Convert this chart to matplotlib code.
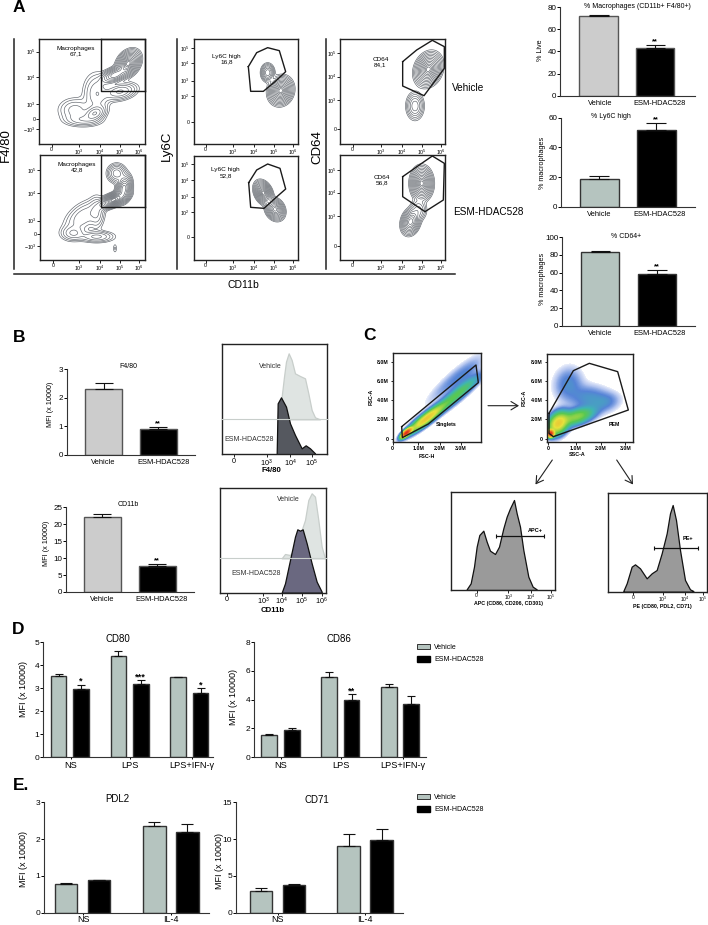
import numpy as np
import matplotlib
matplotlib.use('Agg')
import matplotlib.pyplot as plt
from matplotlib.colors import LinearSegmentedColormap, LogNorm
from matplotlib.patches import Patch

plt.rcParams['font.family'] = ['Liberation Sans', 'DejaVu Sans']
plt.rcParams['mathtext.default'] = 'regular'

W, H = 708, 925

# bar charts
labels_two = ['Vehicle', 'ESM-HDAC528']
live_mean, live_err = [72, 43.5], [1, 2.5]
ly6c_mean, ly6c_err = [19, 52], [1.8, 4.5]
cd64_mean, cd64_err = [83, 58], [1, 5]
f480_mean, f480_err = [2.3, 0.9], [0.23, 0.08]
cd11b_mean, cd11b_err = [22.2, 7.6], [0.7, 0.7]
labels_d = ['NS', 'LPS', 'LPS+IFN-γ']
cd80_mean, cd80_err = [3.55, 2.95, 4.42, 3.2, 3.47, 2.8], [0.06, 0.2, 0.2, 0.14, 0.03, 0.2]
cd86_mean, cd86_err = [1.52, 1.85, 5.55, 3.97, 4.88, 3.72], [0.07, 0.18, 0.35, 0.42, 0.22, 0.52]
labels_e = ['NS', 'IL-4']
pdl2_mean, pdl2_err = [0.78, 0.88, 2.36, 2.2], [0.015, 0.02, 0.1, 0.2]
cd71_mean, cd71_err = [3.0, 3.7, 9.05, 9.9], [0.3, 0.2, 1.7, 1.45]

# contour plots: cx, cy, sx, sy, rho, weight on the cytometer channel scale
mac_veh = [(385, 190, 20, 22, -.3, 1.0), (345, 225, 26, 16, -.5, .6), (285, 340, 22, 16, -.3, .25),
           (225, 330, 35, 25, 0, .1), (290, 280, 28, 42, 0, .12), (360, 275, 34, 18, -.3, .2),
           (250, 360, 40, 14, 0, .1)]
mac_esm = [(340, 600, 26, 15, -.6, 1.0), (372, 565, 14, 24, -.2, .7), (350, 520, 18, 18, 0, .25),
           (250, 650, 40, 35, -.5, .12), (290, 710, 36, 12, 0, .14), (220, 700, 26, 16, 0, .12),
           (290, 640, 16, 34, 0, .1), (345, 745, 5, 12, 0, .03)]
ly6c_veh = [(803, 218, 12, 16, 0, .35), (842, 272, 20, 23, -.1, 1.0)]
ly6c_esm = [(790, 578, 15, 19, .3, 1.0), (825, 628, 16, 18, .2, .8)]
cd64_veh = [(1285, 208, 22, 27, -.2, 1.0), (1245, 318, 16, 25, 0, .25)]
cd64_esm = [(1265, 550, 18, 27, 0, 1.0), (1232, 665, 16, 22, -.2, .7), (1255, 630, 16, 20, 0, .15)]

gate_ly6c_veh = [(745, 200), (770, 158), (803, 143), (838, 152), (857, 215), (825, 245), (790, 274), (752, 274), (745, 200)]
gate_ly6c_esm = [(746, 548), (770, 510), (803, 492), (840, 505), (857, 567), (825, 595), (792, 625), (752, 622), (746, 548)]
gate_cd64_veh = [(1208, 185), (1250, 150), (1297, 121), (1333, 140), (1333, 205), (1272, 287), (1208, 258), (1208, 185)]
gate_cd64_esm = [(1208, 530), (1255, 497), (1297, 468), (1333, 490), (1330, 600), (1275, 635), (1208, 590), (1208, 530)]

# histograms
f480_veh_x = [833, 845, 852, 858, 866, 875, 885, 900, 915, 925, 935, 945, 960]
f480_veh_y = [298, 230, 170, 125, 100, 120, 160, 168, 175, 220, 270, 292, 298]
f480_esm_x = [830, 833, 843, 858, 870, 885, 905, 917, 930, 945]
f480_esm_y = [403, 250, 232, 260, 310, 345, 385, 376, 385, 400]
cd11b_veh_x = [845, 855, 870, 890, 905, 915, 925, 935, 945, 955, 965, 975]
cd11b_veh_y = [715, 702, 705, 680, 630, 600, 540, 520, 530, 600, 680, 715]
cd11b_esm_x = [845, 855, 870, 885, 892, 900, 908, 920, 935, 950, 965]
cd11b_esm_y = [818, 790, 720, 650, 628, 632, 628, 670, 730, 785, 815]
apc_x = [350, 362, 372, 380, 388, 400, 410, 420, 435, 447, 460, 470, 480, 492, 500, 510, 520, 535, 548, 560]
apc_y = [808, 790, 740, 680, 645, 632, 665, 692, 702, 680, 625, 590, 565, 540, 580, 620, 690, 770, 800, 808]
pe_x = [820, 830, 845, 855, 870, 890, 905, 920, 935, 950, 960, 968, 978, 990, 1005, 1020, 1030]
pe_y = [813, 790, 740, 733, 745, 775, 760, 750, 700, 640, 580, 555, 600, 690, 780, 808, 813]

# pseudocolour plots
singlets = [(170, 338, 10, 9, -.7, 1.0), (230, 295, 35, 28, -.9, .22), (320, 225, 45, 38, -.92, .06),
            (310, 180, 55, 50, -.9, .008), (350, 165, 35, 35, -.8, .006)]
pem = [(602, 340, 7, 7, 0, 1.0), (625, 310, 20, 22, -.3, .2), (680, 290, 35, 18, -.5, .09),
       (655, 190, 30, 35, -.1, .012), (720, 235, 45, 28, .1, .014), (770, 245, 30, 20, -.2, .008)]
gate_singlets = [(155, 320), (378, 135), (385, 188), (235, 312), (157, 353), (155, 320)]
gate_pem = [(597, 280), (670, 152), (718, 130), (803, 155), (835, 270), (610, 350), (597, 340), (597, 280)]

SAGE = '#b5c4bf'
GREY = '#cccccc'
flow_cmap = LinearSegmentedColormap.from_list('flow', ['#eef1fb', '#b4c5ef', '#5583d6', '#3fb4b4', '#58c850',
                                                       '#e6e23c', '#f09a28', '#e02a1c'])

fig = plt.figure(figsize=(W / 100, H / 100), dpi=100)
ov = fig.add_axes([0, 0, 1, 1], zorder=10)
ov.set_xlim(0, W)
ov.set_ylim(H, 0)
ov.axis('off')
ov.patch.set_alpha(0)


def px_axes(x0, y0, x1, y1):
    return fig.add_axes([x0 / W, 1 - y1 / H, (x1 - x0) / W, (y1 - y0) / H])


def bar_panel(box, ymax, yticks, means, errs, edges, colors, xticks, xlabels, stars=None, size=5.4, ec='#333333',
              xpad=3, xlen=0):
    ax = px_axes(*box)
    ax.set_xlim(box[0], box[2])
    ax.set_ylim(0, ymax)
    for i, (left, right) in enumerate(edges):
        width = right - left
        ax.bar((left + right) / 2, means[i], width=width, color=colors[i], edgecolor=ec, linewidth=1)
        ax.errorbar((left + right) / 2, means[i], yerr=[[0], [errs[i]]], fmt='none', ecolor='#111111',
                    elinewidth=.8, capthick=.8, capsize=width * .18)
        if stars and stars[i]:
            ax.annotate(stars[i], ((left + right) / 2, means[i] + errs[i]), xytext=(0, 2.5),
                        textcoords='offset points', ha='center', va='center', fontsize=size, fontweight='bold')
    ax.spines['top'].set_visible(False)
    ax.spines['right'].set_visible(False)
    ax.spines['left'].set_color('#333333')
    ax.spines['bottom'].set_color('#333333')
    ax.patch.set_alpha(0)
    ax.set_yticks(yticks)
    ax.set_xticks(xticks)
    ax.set_xticklabels(xlabels)
    ax.tick_params(axis='y', length=2, width=.7, pad=0.5, labelsize=min(size + .4, 6))
    ax.tick_params(axis='x', length=xlen, width=.7, pad=xpad, labelsize=size)
    return ax


def flow_axes(box, xoff=0, yoff=0, lw=1.0):
    x0, y0, x1, y1 = box
    ax = px_axes(xoff + x0 / 3, yoff + y0 / 3, xoff + x1 / 3, yoff + y1 / 3)
    ax.set_xlim(x0, x1)
    ax.set_ylim(y1, y0)
    for sp in ax.spines.values():
        sp.set_linewidth(lw)
        sp.set_color('#222222')
    return ax


def density(blobs, box, step=1.5, spread=1.0):
    xs = np.arange(box[0], box[2] + step, step)
    ys = np.arange(box[1], box[3] + step, step)
    X, Y = np.meshgrid(xs, ys)
    Z = np.zeros_like(X, dtype=float)
    for cx, cy, sx, sy, rho, w in blobs:
        dx, dy = (X - cx) / (sx * spread), (Y - cy) / (sy * spread)
        Z += w * np.exp(-(dx ** 2 - 2 * rho * dx * dy + dy ** 2) / (2 * (1 - rho ** 2)))
    return X, Y, Z / Z.max()


def pow_label(e):
    return f'$10^{{{e}}}$'


def contour_panel(box, blobs, xt, yt, ylabs, gate=None, text=None, reach=2.9):
    ax = flow_axes(box)
    X, Y, Z = density(blobs, box, spread=.75)
    # rings evenly spaced in radius, like the equal probability contours
    levels = np.exp(-.5 * np.linspace(reach, .35, 13) ** 2)
    ax.contour(X, Y, Z, levels=levels, colors='#5c6168', linewidths=.45)
    if gate is not None:
        ax.plot(*zip(*gate), color='#1a1a1a', lw=1)
    ax.set_xticks(xt)
    ax.set_xticklabels(['0', pow_label(3), pow_label(4), pow_label(5), pow_label(6)])
    ax.set_yticks(yt)
    ax.set_yticklabels(ylabs)
    ax.tick_params(length=2, width=.6, pad=.5, labelsize=3.8)
    ax.text(text[0], text[1], text[2], ha='center', va='center', fontsize=4.6, linespacing=1.15)
    return ax


def hist_panel(box, curves, xt, xlabs, yoff, xoff=0, fs=5.5, lw=1.0):
    ax = flow_axes(box, xoff, yoff, lw=lw)
    for x, y, base, face, edge in curves:
        ax.fill_between(x, y, base, color=face, edgecolor=edge, linewidth=.9)
    ax.set_xticks(xt)
    ax.set_xticklabels(xlabs)
    ax.set_yticks([])
    ax.tick_params(length=1.8, width=.6, pad=.5, labelsize=fs)
    return ax


def scatter_panel(box, blobs, gate, xt, yt, xoff, yoff):
    ax = flow_axes(box, xoff, yoff)
    X, Y, Z = density(blobs, box, spread=.85)
    Z = np.ma.masked_less(Z, 1.5e-3)
    ax.pcolormesh(X, Y, Z, cmap=flow_cmap, norm=LogNorm(1.5e-3, 1), shading='nearest', rasterized=True)
    ax.plot(*zip(*gate), color='#1a1a1a', lw=1)
    ax.set_xticks(xt)
    ax.set_xticklabels(['0', '1.0M', '2.0M', '3.0M'])
    ax.set_yticks(yt)
    ax.set_yticklabels(['8.0M', '6.0M', '4.0M', '2.0M', '0'])
    ax.tick_params(length=1.8, width=.6, pad=1, labelsize=3.8)
    for t in ax.get_xticklabels() + ax.get_yticklabels():
        t.set_fontweight('bold')
    return ax


# panel A bars
bar_panel((560, 7.3, 695, 95.7), 80, [0, 20, 40, 60, 80], live_mean, live_err, [(579, 618), (636, 674)],
          [GREY, 'black'], [600, 660], labels_two, [None, '**'], ec='#555555')
bar_panel((561, 117.7, 695, 207), 60, [0, 20, 40, 60], ly6c_mean, ly6c_err, [(580, 618.7), (637, 675.7)],
          [SAGE, 'black'], [599.7, 659.3], labels_two, [None, '**'])
bar_panel((562, 237.3, 695, 325.7), 100, [0, 20, 40, 60, 80, 100], cd64_mean, cd64_err, [(581, 619), (637.7, 676)],
          [SAGE, 'black'], [600.3, 659.3], labels_two, [None, '**'])

# panel B bars
bar_panel((66.7, 369.3, 195, 454.7), 3, [0, 1, 2, 3], f480_mean, f480_err, [(85, 122), (139.7, 177)],
          [GREY, 'black'], [103.7, 163.3], labels_two, [None, '**'], ec='#555555')
bar_panel((66, 507.3, 194, 592), 25, [0, 5, 10, 15, 20, 25], cd11b_mean, cd11b_err, [(84, 120.7), (138.7, 175.7)],
          [GREY, 'black'], [102, 162], labels_two, [None, '**'], ec='#555555')

# panels D and E bars
two = [SAGE, 'black'] * 3
bar_panel((43, 642.3, 213, 757), 5, [0, 1, 2, 3, 4, 5], cd80_mean, cd80_err,
          [(50.7, 66.3), (73.3, 89), (110.7, 126), (133, 148.7), (170.3, 185.7), (192.7, 208.3)],
          two, [70.7, 130, 192], labels_d, [None, '*', None, '***', None, '*'], size=6.6, xpad=1.5, xlen=1.5)
bar_panel((254, 642.3, 426, 757), 8, [0, 2, 4, 6, 8], cd86_mean, cd86_err,
          [(261.3, 277), (284, 299.7), (321.3, 336.7), (343.7, 359.3), (381, 396.7), (403.3, 419)],
          two, [281, 341, 402.7], labels_d, [None, None, None, '**', None, None], size=6.6, xpad=1.5, xlen=1.5)
bar_panel((44, 802.3, 209, 912.7), 3, [0, 1, 2, 3], pdl2_mean, pdl2_err,
          [(55, 77.3), (88, 110.3), (143.3, 165.7), (176.3, 198.7)], two, [83, 171], labels_e, size=6.4, xpad=.5,
          xlen=1.5)
bar_panel((235.7, 802.3, 403, 912.7), 15, [0, 5, 10, 15], cd71_mean, cd71_err,
          [(250, 272.3), (283, 305.3), (337.3, 359.7), (370.3, 392.7)], two, [278, 365], labels_e, size=6.4, xpad=.5,
          xlen=1.5)

# panel A contours
y_mac = [pow_label(5), pow_label(4), pow_label(3), '0', '$-10^{3}$']
contour_panel((118, 116, 434, 432), mac_veh, [155, 237, 300, 360, 418], [155, 232, 312, 357, 388], y_mac,
              text=(228, 153, 'Macrophages\n67,1'))
contour_panel((121, 466, 434, 780), mac_esm, [160, 237, 300, 360, 418], [510, 580, 662, 703, 738], y_mac,
              text=(230, 501, 'Macrophages\n42,8'))
y_ly = [pow_label(5), pow_label(4), pow_label(3), pow_label(2), '0']
contour_panel((581, 118, 893, 432), ly6c_veh, [617, 700, 762, 822, 880], [145, 190, 242, 288, 365], y_ly,
              gate=gate_ly6c_veh, text=(680, 177, 'Ly6C high\n16,8'))
contour_panel((581, 468, 895, 780), ly6c_esm, [617, 700, 762, 822, 880], [492, 540, 590, 637, 712], y_ly,
              gate=gate_ly6c_esm, text=(677, 518, 'Ly6C high\n52,8'))
y_cd = [pow_label(5), pow_label(4), pow_label(3), '0']
contour_panel((1021, 118, 1336, 432), cd64_veh, [1058, 1142, 1205, 1265, 1323], [160, 230, 300, 388], y_cd,
              gate=gate_cd64_veh, text=(1141, 187, 'CD64\n84,1'))
contour_panel((1021, 466, 1336, 780), cd64_esm, [1058, 1142, 1205, 1265, 1323], [510, 578, 648, 737], y_cd,
              gate=gate_cd64_esm, text=(1145, 540, 'CD64\n56,8'))
for gx0, gy0, gy1, gx1 in [(303, 116, 273, 434), (303, 466, 622, 434)]:
    ov.plot([gx0 / 3, gx0 / 3, gx1 / 3], [gy0 / 3, gy1 / 3, gy1 / 3], color='#1a1a1a', lw=1)
    ov.plot([gx0 / 3, gx1 / 3, gx1 / 3], [gy0 / 3, gy0 / 3, gy1 / 3], color='#1a1a1a', lw=1)

# panel B histograms
hist_panel((665, 71, 981, 403), [(f480_veh_x, f480_veh_y, 298, '#dfe4e2', '#c8cecb'),
                                 (f480_esm_x, f480_esm_y, 403, '#55585f', '#111111')],
           [702, 800, 870, 935], ['0', pow_label(3), pow_label(4), pow_label(5)], 320, fs=5.2)
hist_panel((661, 503, 978, 818), [(cd11b_veh_x, cd11b_veh_y, 715, '#dfe4e2', '#c8cecb'),
                                  (cd11b_esm_x, cd11b_esm_y, 818, '#6a6880', '#111111')],
           [681, 790, 845, 905, 965], ['0', pow_label(3), pow_label(4), pow_label(5), pow_label(6)], 320, fs=5.2)
ov.plot([221.7, 327], [419.3, 419.3], color='#c8cecb', lw=.8)
ov.plot([220.3, 326], [558.3, 558.3], color='#c8cecb', lw=.8)

# panel C
scatter_panel((128, 100, 394, 365), singlets, gate_singlets, [128, 205, 270, 333], [125, 183, 240, 298, 357], 350, 320)
scatter_panel((590, 103, 848, 365), pem, gate_pem, [595, 678, 752, 826], [127, 184, 241, 298, 357], 350, 320)
a1 = hist_panel((304, 516, 616, 810), [(apc_x, apc_y, 810, '#9a9a9a', '#111111')], [380, 475, 542, 603],
                ['0', pow_label(3), pow_label(4), pow_label(5)], 320, 350, fs=3.6)
a1.errorbar([509], [648], xerr=[72], color='#111111', lw=.9, capsize=1.5, capthick=.8)
a2 = hist_panel((773, 520, 1072, 815), [(pe_x, pe_y, 815, '#9a9a9a', '#111111')], [850, 938, 1005, 1058],
                ['0', pow_label(3), pow_label(4), pow_label(5)], 320, 350, fs=3.6)
a2.errorbar([979], [685], xerr=[66], color='#111111', lw=.9, capsize=1.5, capthick=.8)

# arrows
for start, end in [((488, 405.7), (519, 405.7)), ((552.3, 460), (535.5, 484.5)), ((616.7, 460), (633, 484.5))]:
    ov.annotate('', xy=end, xytext=start, arrowprops=dict(arrowstyle='->,head_length=.5,head_width=.3', lw=.8,
                                                          color='#222222', shrinkA=0, shrinkB=0))

# frame lines of panel A
for x in [14.3, 176.7, 325.7]:
    ov.plot([x, x], [39, 269], color='#222222', lw=1.1)
ov.plot([14, 455], [274.3, 274.3], color='#222222', lw=1.1)


def txt(x, y, s, size=5.2, **kw):
    kw.setdefault('ha', 'center')
    kw.setdefault('va', 'center')
    ov.text(x, y, s, fontsize=size, **kw)


for s, x, y in [('A', 19, 7), ('B', 19, 337), ('C', 369, 336), ('D', 18, 629), ('E.', 21, 786)]:
    txt(x, y, s, size=12.5, fontweight='bold')

txt(6, 145, 'F4/80', 9.5, rotation=90)
txt(167, 146, 'Ly6C', 9.5, rotation=90)
txt(317, 147, 'CD64', 9.5, rotation=90)
txt(243, 285, 'CD11b', 7.5)
txt(468, 88, 'Vehicle', 7.2)
txt(453, 212, 'ESM-HDAC528', 7.2, ha='left')

txt(637.7, 6, '% Macrophages (CD11b+ F4/80+)', 5)
txt(611, 116, '% Ly6C high', 5)
txt(626, 236, '% CD64+', 5)
txt(541, 50, '% Live', 5.2, rotation=90)
txt(543, 163, '% macrophages', 5.2, rotation=90)
txt(543, 279, '% macrophages', 5.2, rotation=90)
txt(128, 367, 'F4/80', 5)
txt(128, 505, 'CD11b', 5)
txt(50, 404, 'MFI (x 10000)', 5.2, rotation=90)
txt(47, 543, 'MFI (x 10000)', 5.2, rotation=90)

txt(270.7, 366, 'Vehicle', 5, color='#333333')
txt(249.3, 439.3, 'ESM-HDAC528', 5, color='#333333')
txt(271, 471, 'F4/80', 5.6, fontweight='bold')
txt(288, 499.3, 'Vehicle', 5, color='#333333')
txt(256, 573.3, 'ESM-HDAC528', 5, color='#333333')
txt(272.7, 610, 'CD11b', 5.6, fontweight='bold')

txt(350 + 290 / 3, 320 + 313 / 3, 'Singlets', 3.8, fontweight='bold')
txt(350 + 792 / 3, 320 + 312 / 3, 'PEM', 3.8, fontweight='bold')
txt(350 + 230 / 3, 320 + 408 / 3, 'FSC-H', 3.8, fontweight='bold')
txt(350 + 62 / 3, 320 + 230 / 3, 'FSC-A', 3.8, fontweight='bold', rotation=90)
txt(350 + 680 / 3, 320 + 403 / 3, 'SSC-A', 3.8, fontweight='bold')
txt(350 + 522 / 3, 320 + 235 / 3, 'FSC-A', 3.8, fontweight='bold', rotation=90)
txt(350 + 556 / 3, 320 + 632 / 3, 'APC+', 4, fontweight='bold')
txt(350 + 1015 / 3, 320 + 657 / 3, 'PE+', 4, fontweight='bold')
txt(350 + 475 / 3, 320 + 851 / 3, 'APC (CD86, CD206, CD301)', 3.8, fontweight='bold')
txt(350 + 937 / 3, 320 + 859 / 3, 'PE (CD80, PDL2, CD71)', 3.8, fontweight='bold')

txt(118, 639, 'CD80', 7)
txt(339, 639, 'CD86', 7)
txt(117, 799.3, 'PDL2', 7)
txt(317, 800, 'CD71', 7)
txt(23, 689, 'MFI (x 10000)', 6.5, rotation=90)
txt(233, 697, 'MFI (x 10000)', 6.5, rotation=90)
txt(23, 859, 'MFI (x 10000)', 6.5, rotation=90)
txt(220, 861, 'MFI (x 10000)', 6.5, rotation=90)

# legends of D and E
handles = [Patch(facecolor=SAGE, edgecolor='#333333', linewidth=.7), Patch(facecolor='black', edgecolor='black')]
for top in [(925 - 644) / 925, (925 - 794) / 925]:
    fig.legend(handles, labels_two, loc='upper left', bbox_to_anchor=(417 / W, top), frameon=False, fontsize=5,
               handlelength=1.8, handleheight=.8, handletextpad=.7, labelspacing=.75, borderpad=0, borderaxespad=0)

fig.savefig('out.png', dpi=100, facecolor='white')
